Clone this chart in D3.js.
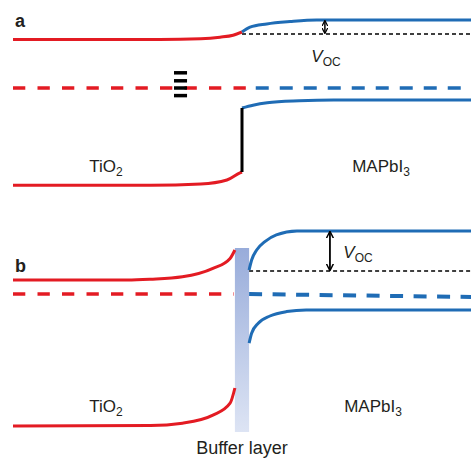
<!DOCTYPE html>
<html>
<head>
<meta charset="utf-8">
<script src="https://cdn.jsdelivr.net/npm/d3@7"></script>
<style>
  body { margin: 0; background: #fff; }
  text { font-family: 'Liberation Sans', Arial, sans-serif; fill: #231f20; }
</style>
</head>
<body>
<div id="chart"></div>
<script>
// position (nm, interface at 0) vs energy (eV, Fermi level at 0)
// panel a: TiO2 / MAPbI3 direct contact
var tio2CbA = [[-100, 1.21], [-36, 1.21], [-18, 1.23], [-9.6, 1.27], [-3.9, 1.32], [0, 1.4]];
var tio2VbA = [[-100, -2.43], [-40, -2.43], [-18, -2.4], [-6.6, -2.3], [-0.9, -2.12], [0, -2.1]];
var mapiCbA = [[0, 1.4], [3.5, 1.52], [10.8, 1.6], [21, 1.66], [32.6, 1.7], [100, 1.7]];
var mapiVbA = [[0, -0.5], [4.8, -0.43], [11, -0.37], [25, -0.32], [40, -0.3], [100, -0.3]];
var stepA = [[0, -2.1], [0, -0.5]];
var fermiRedA = [[-100, 0], [3.5, 0]];
var fermiBlueA = [[6, 0], [100, 0]];
var quasiA = [[0, 1.35], [100, 1.35]];
var vocA = [36.2, 1.7, 1.35];
var traps = [0.38, 0.18, 0, -0.19];
var trapSpan = [-29.7, -24];

// panel b: with buffer layer
var tio2CbB = [[-100, 0.35], [-50, 0.35], [-40, 0.37], [-26, 0.43], [-12.7, 0.64], [-5.2, 0.89], [-3.1, 1.1]];
var tio2VbB = [[-100, -3.3], [-40, -3.29], [-26, -3.23], [-12.7, -3.03], [-5.2, -2.73], [-3.1, -2.35]];
var mapiCbB = [[3.1, 0.6], [4.2, 0.85], [6.4, 1.1], [10, 1.31], [15, 1.48], [24, 1.575], [100, 1.575]];
var mapiVbB = [[3.1, -1.23], [4.2, -0.98], [7.1, -0.73], [12.2, -0.55], [19.5, -0.44], [28, -0.4], [100, -0.4]];
var fermiRedB = [[-100, 0], [-3.5, 0]];
var fermiBlueB = [[3.1, 0], [100, -0.075]];
var quasiB = [[3.1, 0.575], [100, 0.575]];
var vocB = [38.4, 1.575, 0.575];
var buffer = [-3.1, 3.1, 1.15, -3.45];

var red = '#e31b23';
var blue = '#1f6cb5';

var width = 471, height = 459;

var svg = d3.select('#chart')
    .append('svg')
    .attr('width', width)
    .attr('height', height);

var defs = svg.append('defs');
var grad = defs.append('linearGradient').attr('id', 'buf').attr('x1', 0).attr('y1', 0).attr('x2', 0).attr('y2', 1);
grad.append('stop').attr('offset', '0%').attr('stop-color', '#98acda');
grad.append('stop').attr('offset', '100%').attr('stop-color', '#dde4f4');

var arrow = defs.append('marker').attr('id', 'arr').attr('viewBox', '0 0 10 10')
    .attr('refX', 9).attr('refY', 5).attr('markerWidth', 4).attr('markerHeight', 4)
    .attr('orient', 'auto-start-reverse').attr('markerUnits', 'strokeWidth');
arrow.append('path').attr('d', 'M0,0 L10,5 L0,10').attr('fill', 'none').attr('stroke', '#000').attr('stroke-width', 2);

var x = d3.scaleLinear().domain([-100, 100]).range([13, 471]);
var yA = d3.scaleLinear().domain([-2.5, 2]).range([188, 8]);
var yB = d3.scaleLinear().domain([-4, 1.5]).range([454, 234]);

function band(g, y, pts, color, w, dash) {
    var line = d3.line().x(d => x(d[0])).y(d => y(d[1])).curve(d3.curveMonotoneX);
    var p = g.append('path').attr('d', line(pts)).attr('fill', 'none')
        .attr('stroke', color).attr('stroke-width', w);
    if (dash) p.attr('stroke-dasharray', dash);
    return p;
}

function vline(g, y, xv, e1, e2, color, w) {
    return g.append('line').attr('x1', x(xv)).attr('x2', x(xv))
        .attr('y1', y(e1)).attr('y2', y(e2)).attr('stroke', color).attr('stroke-width', w);
}

function label(g, txt, sub, cx, by, italic) {
    var t = g.append('text').attr('x', cx).attr('y', by).attr('text-anchor', 'middle').style('font-size', '17px');
    var m = t.append('tspan').text(txt);
    if (italic) m.style('font-style', 'italic');
    t.append('tspan').text(sub).style('font-size', '12px').attr('dy', 4);
    return t;
}

// ---------- panel a ----------
var a = svg.append('g');
a.append('text').text('a').attr('x', 15).attr('y', 27).style('font-size', '18px').style('font-weight', 'bold');

band(a, yA, quasiA, '#000', 1.5, '4 3');
band(a, yA, fermiRedA, red, 3.5, '12.3 12.2');
band(a, yA, fermiBlueA, blue, 3.5, '13 11');
band(a, yA, tio2CbA, red, 3);
band(a, yA, tio2VbA, red, 3);
band(a, yA, mapiCbA, blue, 3);
band(a, yA, mapiVbA, blue, 3);
vline(a, yA, stepA[0][0], stepA[0][1], stepA[1][1], '#000', 3);

a.selectAll('.trap').data(traps).enter().append('line')
    .attr('class', 'trap')
    .attr('x1', x(trapSpan[0])).attr('x2', x(trapSpan[1]))
    .attr('y1', d => yA(d)).attr('y2', d => yA(d))
    .attr('stroke', '#000').attr('stroke-width', 3.5);

vline(a, yA, vocA[0], vocA[1], vocA[2], '#000', 1.5)
    .attr('y1', yA(vocA[1]) + 1).attr('y2', yA(vocA[2]) - 1)
    .attr('marker-start', 'url(#arr)').attr('marker-end', 'url(#arr)');

label(a, 'V', 'OC', 326, 62, true);
label(a, 'TiO', '2', 106, 172);
label(a, 'MAPbI', '3', 381, 172);

// ---------- panel b ----------
var b = svg.append('g');
b.append('text').text('b').attr('x', 15).attr('y', 272).style('font-size', '18px').style('font-weight', 'bold');

b.append('rect')
    .attr('x', x(buffer[0])).attr('width', x(buffer[1]) - x(buffer[0]))
    .attr('y', yB(buffer[2])).attr('height', yB(buffer[3]) - yB(buffer[2]))
    .attr('fill', 'url(#buf)');

band(b, yB, quasiB, '#000', 1.5, '4 3');
band(b, yB, fermiRedB, red, 3.5, '12.3 12.2');
band(b, yB, fermiBlueB, blue, 4, '13 10.5');
band(b, yB, tio2CbB, red, 3);
band(b, yB, tio2VbB, red, 3);
band(b, yB, mapiCbB, blue, 3);
band(b, yB, mapiVbB, blue, 3);

vline(b, yB, vocB[0], vocB[1], vocB[2], '#000', 1.8)
    .attr('y1', yB(vocB[1]) + 1).attr('y2', yB(vocB[2]) - 1)
    .attr('marker-start', 'url(#arr)').attr('marker-end', 'url(#arr)');

label(b, 'V', 'OC', 358, 258, true);
label(b, 'TiO', '2', 106, 412);
label(b, 'MAPbI', '3', 373, 412);

b.append('text').text('Buffer layer').attr('x', 242).attr('y', 454)
    .attr('text-anchor', 'middle').style('font-size', '18px');
</script>
</body>
</html>
